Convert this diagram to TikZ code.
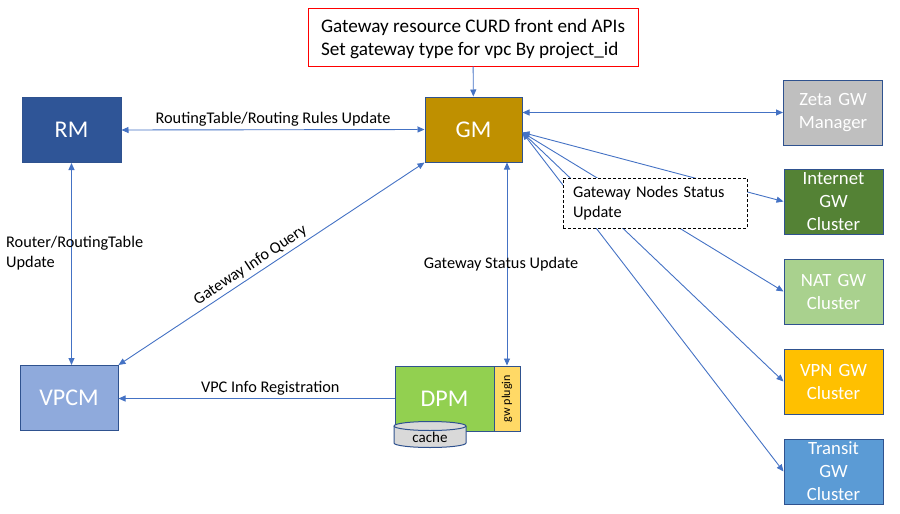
\documentclass[tikz,border=0pt]{standalone}
\usepackage{fontspec}
\setmainfont{Carlito}
\usepackage{tikz}
\usetikzlibrary{arrows.meta}
\definecolor{linkblue}{HTML}{4472C4}
\definecolor{edgeblue}{HTML}{2F528F}
\definecolor{rmblue}{HTML}{2F5597}
\definecolor{gmgold}{HTML}{BF9000}
\definecolor{zetagray}{HTML}{BFBFBF}
\definecolor{inetgreen}{HTML}{548235}
\definecolor{natgreen}{HTML}{A9D18E}
\definecolor{vpnyellow}{HTML}{FFC000}
\definecolor{transitblue}{HTML}{5B9BD5}
\definecolor{vpcmblue}{HTML}{8FAADC}
\definecolor{dpmgreen}{HTML}{92D050}
\definecolor{pluginyellow}{HTML}{FFD966}
\definecolor{cachegray}{HTML}{D9D9D9}
\def\bigfont{\fontsize{24}{28}\selectfont}
\def\gwfont{\fontsize{18.7}{23}\selectfont}
\def\apifont{\fontsize{19.2}{23}\selectfont}
\def\lblfont{\fontsize{16.3}{20}\selectfont}
\def\tinyfont{\fontsize{12}{14}\selectfont}

\begin{document}
\begin{tikzpicture}[x=1pt,y=-1pt,
    box/.style={draw=edgeblue, line width=1pt, text=white, minimum width=99pt,
      minimum height=65pt, inner sep=0pt, align=center, font=\bigfont},
    gwbox/.style={box, font=\gwfont, text width=95pt},
    link/.style={linkblue, line width=0.9pt,
      {Triangle[length=7pt,width=6pt]}-{Triangle[length=7pt,width=6pt]}},
    onelink/.style={linkblue, line width=0.9pt, -{Triangle[length=7pt,width=6pt]}},
    lbl/.style={font=\lblfont, text=black, inner sep=3pt}]
   \useasboundingbox (0,0) rectangle (900,514);

   % managers
   \node[box, fill=rmblue] (RM) at (71.5,130) {RM};
   \node[box, fill=gmgold, minimum width=97pt] (GM) at (473.5,129.5) {GM};
   \node[box, fill=vpcmblue, minimum width=98pt] (VPCM) at (69,398) {VPCM};
   \node[draw=red, fill=white, line width=1pt, minimum width=330pt, minimum height=58pt,
     align=left, font=\apifont] (api) at (473,37) {};
   \node[align=left, font=\apifont] (apitxt) at (473,39)
     {Gateway resource CURD front end APIs\\Set gateway type for vpc By project\_id};

   % DPM with plugin and cache
   \node[box, fill=dpmgreen] (DPM) at (444.5,398.5) {DPM};
   \node[draw=edgeblue, line width=1pt, fill=pluginyellow, minimum width=65pt,
     minimum height=26pt, inner sep=0pt, rotate=90, font=\tinyfont] (plugin) at (507,398.5) {gw plugin};
   \filldraw[draw=edgeblue, fill=cachegray, line width=1pt] (394,426) -- (394,443)
     arc[start angle=180, end angle=360, x radius=36pt, y radius=4.5pt] -- (466,426)
     arc[start angle=0, end angle=180, x radius=36pt, y radius=4.5pt];
   \draw[edgeblue, line width=1pt] (394,426) arc[start angle=180, end angle=360, x radius=36pt, y radius=4.5pt];
   \node[font=\fontsize{15}{17}\selectfont] (cache) at (430,437) {cache};

   % gateway clusters
   \node[gwbox, fill=zetagray] (zeta) at (833,112.5) {Zeta GW\\Manager};
   \node[gwbox, fill=inetgreen] (inet) at (833.5,201.5) {Internet\\GW\\Cluster};
   \node[gwbox, fill=natgreen] (nat) at (833.5,291.5) {NAT GW\\Cluster};
   \node[gwbox, fill=vpnyellow] (vpn) at (833.5,381.5) {VPN GW\\Cluster};
   \node[gwbox, fill=transitblue] (transit) at (833.5,471.5) {Transit\\GW\\Cluster};

   % connectors
   \draw[onelink] (api) -- (GM);
   \draw[link] (RM.east) -- node[lbl, above] (rtlbl) {RoutingTable/Routing Rules Update} (GM.west);
   \draw[link] (GM.east |- zeta.west) -- (zeta.west);
   \draw[link] (RM.south) -- (RM.south |- VPCM.north);
   \node[lbl, align=left, anchor=west] (rrlbl) at (3,253) {Router/RoutingTable\\Update};
   \draw[link] (GM.south west) -- node[lbl, sloped, above, pos=0.55] (gqlbl) {Gateway Info Query} (VPCM.north east);
   \draw[link] (plugin.east |- GM.south) -- node[lbl, pos=0.5, xshift=-6pt] (gslbl) {Gateway Status Update} (plugin.east);
   \draw[onelink] (DPM.west) -- node[lbl, above, pos=0.45] (regl) {VPC Info Registration} (VPCM.east |- DPM.west);

   \coordinate (fan) at ([yshift=-3pt]GM.east);
   \foreach \g in {inet,nat,vpn,transit}
     \draw[link] (fan) -- (\g.west);
   \node[draw, dashed, dash pattern=on 3pt off 2pt, fill=white, line width=0.9pt,
     text width=164pt, inner xsep=10pt, minimum height=50pt, align=left, font=\lblfont] (status)
     at (655,203) {Gateway Nodes Status\\Update};
\end{tikzpicture}
\end{document}
